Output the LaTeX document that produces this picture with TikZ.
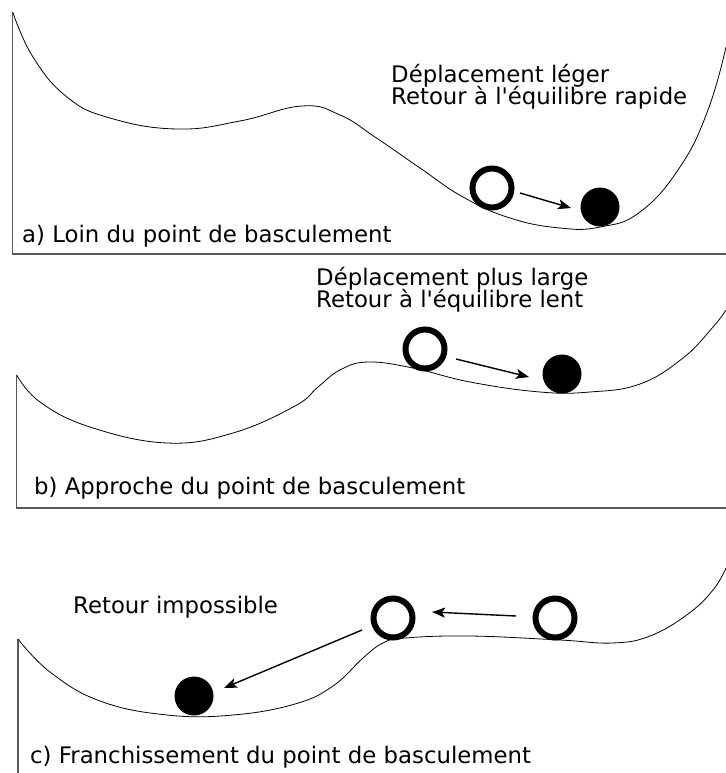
\documentclass[tikz,border=0pt]{standalone}
\usepackage{fontspec}
\setmainfont{DejaVu Sans}[Ligatures=TeXOff]
\usetikzlibrary{arrows.meta}
\tikzset{
  curve/.style={draw=black, line width=0.8bp},
  axis/.style={draw=black!65, line width=1.2bp},
  ring/.style={circle, draw=black, line width=6bp, minimum size=39bp, inner sep=0pt, fill=white},
  ballfull/.style={circle, fill=black, minimum size=39bp, inner sep=0pt},
  arr/.style={line width=1.4bp, -{Stealth[length=13bp, width=10bp, inset=3bp]}},
  txt/.style={inner sep=0pt, anchor=base west, font=\fontsize{22.9}{26}\selectfont}
}
\begin{document}
\begin{tikzpicture}[x=1bp, y=-1bp]
\useasboundingbox (0,0) rectangle (726,773);
% Panel a
\draw[axis] (12.7,12) -- (12.7,254) -- (726,254);
\draw[curve] plot[smooth, tension=0.75] coordinates {(12.7,12) (33,57) (67,97) (110,118) (177,129) (240,121) (302,106) (340,115) (375,137) (420,168) (463,197) (510,218) (560,228) (600,227) (640,212) (680,167) (708,110) (726,47)};
\node[ring] (a1) at (492,188) {};
\node[ballfull] (a2) at (600,207) {};
\coordinate (a1s) at (520,193);
\coordinate (a1e) at (571,208);
\draw[arr] (a1s) -- (a1e);
\node[txt] (ta1) at (391,82) {Déplacement léger};
\node[txt] (ta2) at (391,104) {Retour à l'équilibre rapide};
\node[txt] (la) at (22,242) {a) Loin du point de basculement};
% Panel b
\draw[axis] (16.7,375) -- (16.7,508) -- (726,508);
\draw[curve] plot[smooth, tension=0.7] coordinates {(16.7,375) (40,402) (90,427) (167,443) (233,433) (295,406) (318,387) (340,370) (368,362) (413,368) (470,382) (540,392) (590,392) (640,384) (683,358) (713,327) (726,310)};
\node[ring] (b1) at (425,349) {};
\node[ballfull] (b2) at (562,374) {};
\coordinate (b1s) at (456,359);
\coordinate (b1e) at (529,377);
\draw[arr] (b1s) -- (b1e);
\node[txt] (tb1) at (316,285) {Déplacement plus large};
\node[txt] (tb2) at (316,307) {Retour à l'équilibre lent};
\node[txt] (lb) at (34,494) {b) Approche du point de basculement};
% Panel c
\draw[axis] (18,639) -- (18,773);
\draw[curve] plot[smooth, tension=0.7] coordinates {(18,639) (50,672) (100,701) (167,715) (233,715) (295,704) (333,686) (363,658) (383,643) (405,638) (470,636) (560,640) (612,643) (650,636) (688,614) (713,590) (726,568)};
\node[ring] (c1) at (393,618) {};
\node[ring] (c2) at (555,618) {};
\node[ballfull] (c3) at (194,696) {};
\coordinate (c2s) at (516,616);
\coordinate (c2e) at (432,612);
\draw[arr] (c2s) -- (c2e);
\coordinate (c1s) at (362,630);
\coordinate (c1e) at (224,688);
\draw[arr] (c1s) -- (c1e);
\node[txt] (tc) at (73,613) {Retour impossible};
\node[txt] (lc) at (30,763) {c) Franchissement du point de basculement};
\end{tikzpicture}
\end{document}
